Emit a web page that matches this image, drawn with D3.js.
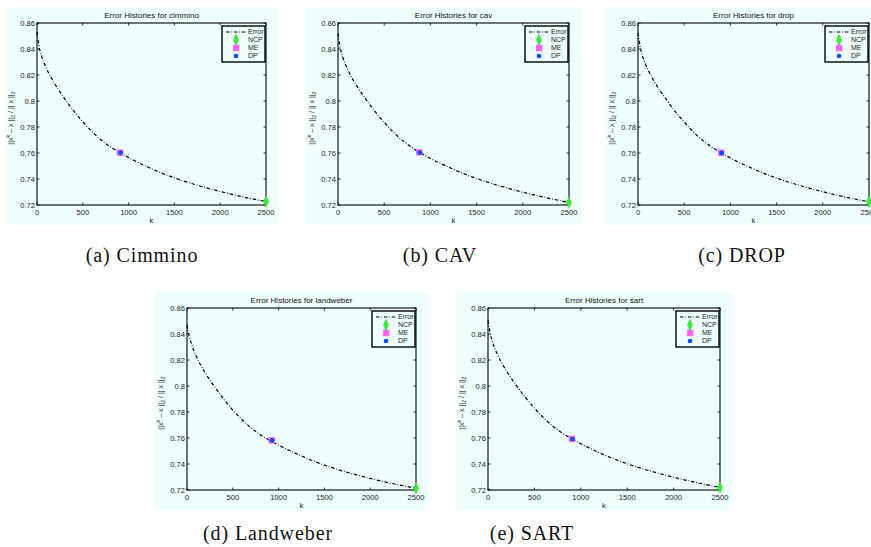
<!DOCTYPE html>
<html>
<head>
<meta charset="utf-8">
<script src="https://cdn.jsdelivr.net/npm/d3@7"></script>
<style>
  body { margin: 0; background: #fff; }
  svg { display: block; }
</style>
</head>
<body>
<div id="chart"></div>
<script>
// iteration counts shared by all five runs
const iterations = [0, 20, 50, 100, 150, 200, 300, 400, 500, 600, 700, 800, 900, 1000, 1200, 1400, 1600, 1800, 2000, 2200, 2400, 2500]

// relative error per method
const errCimmino = [0.853, 0.843, 0.8345, 0.8255, 0.8185, 0.8125, 0.802, 0.7925, 0.784, 0.7765, 0.770, 0.7648, 0.7605, 0.7565, 0.7495, 0.7435, 0.7385, 0.7342, 0.7304, 0.727, 0.724, 0.7226]
const errCav = [0.852, 0.8425, 0.834, 0.825, 0.818, 0.812, 0.8015, 0.792, 0.7835, 0.776, 0.7695, 0.7642, 0.7598, 0.7558, 0.749, 0.743, 0.738, 0.7337, 0.7298, 0.7265, 0.7234, 0.722]
const errDrop = [0.8525, 0.843, 0.8342, 0.8252, 0.8183, 0.8122, 0.8018, 0.7922, 0.7838, 0.7762, 0.7697, 0.7645, 0.7602, 0.7562, 0.7493, 0.7433, 0.7383, 0.734, 0.7302, 0.7268, 0.7238, 0.7225]
const errLandweber = [0.847, 0.8395, 0.832, 0.823, 0.816, 0.81, 0.7995, 0.79, 0.7815, 0.7742, 0.7678, 0.7625, 0.7583, 0.7545, 0.7477, 0.7418, 0.7368, 0.7326, 0.7289, 0.7256, 0.7227, 0.7213]
const errSart = [0.8505, 0.842, 0.8335, 0.8245, 0.8175, 0.8115, 0.801, 0.7915, 0.783, 0.7755, 0.769, 0.7638, 0.7595, 0.7556, 0.7487, 0.7428, 0.7378, 0.7336, 0.7298, 0.7265, 0.7234, 0.722]

const methods = ['cimmino', 'cav', 'drop', 'landweber', 'sart']
const captions = ['(a) Cimmino', '(b) CAV', '(c) DROP', '(d) Landweber', '(e) SART']

// stopping rule picks: NCP, ME, DP
const ncpK = [2500, 2500, 2500, 2500, 2500]
const ncpErr = [0.7226, 0.722, 0.7225, 0.7213, 0.722]
const meK = [905, 880, 900, 925, 905]
const meErr = [0.7603, 0.7605, 0.7602, 0.7582, 0.7593]
const dpK = [912, 885, 905, 928, 910]
const dpErr = [0.7602, 0.7603, 0.760, 0.7581, 0.7592]

const xTicks = [0, 500, 1000, 1500, 2000, 2500]
const yTicks = [0.72, 0.74, 0.76, 0.78, 0.8, 0.82, 0.84, 0.86]
const legendLabels = ['Error', 'NCP', 'ME', 'DP']

const errs = [errCimmino, errCav, errDrop, errLandweber, errSart]

let W = 871
let H = 547
let bg = '#effefe'

let svg = d3.select('#chart')
  .append('svg')
  .attr('width', W)
  .attr('height', H)
  .style('font-family', '"Liberation Sans", Arial, sans-serif')

// plot-area origin for each panel + caption center
let layout = [
  { x: 37, y: 23, w: 229, cx: 142, cy: 262 },
  { x: 338, y: 23, w: 231, cx: 440, cy: 262 },
  { x: 638, y: 23, w: 231, cx: 742, cy: 262 },
  { x: 187, y: 308, w: 229, cx: 268, cy: 540 },
  { x: 488, y: 308, w: 232, cx: 532, cy: 540 }
]
let plotH = 182

function drawPanel(i) {
  let L = layout[i]
  let g = svg.append('g').attr('transform', `translate(${L.x},${L.y})`)

  g.append('rect')
    .attr('x', -32).attr('y', -16)
    .attr('width', L.w + 44).attr('height', plotH + 36)
    .attr('fill', bg)

  let x = d3.scaleLinear().domain([0, 2500]).range([0, L.w])
  let y = d3.scaleLinear().domain([0.72, 0.86]).range([plotH, 0])
  let fmt = d => String(+d.toFixed(2))

  // tick marks inside the box on all sides
  g.selectAll('.xt').data(xTicks).enter().append('path')
    .attr('d', d => `M${x(d)},${plotH}v-2.5M${x(d)},0v2.5`)
    .attr('stroke', '#000').attr('stroke-width', 0.8)
  g.selectAll('.yt').data(yTicks).enter().append('path')
    .attr('d', d => `M0,${y(d)}h2.5M${L.w},${y(d)}h-2.5`)
    .attr('stroke', '#000').attr('stroke-width', 0.8)

  g.selectAll('.xl').data(xTicks).enter().append('text')
    .attr('x', d => x(d)).attr('y', plotH + 10)
    .attr('text-anchor', 'middle')
    .attr('font-size', 7.6).attr('fill', '#222')
    .text(d => d)
  g.selectAll('.yl').data(yTicks).enter().append('text')
    .attr('x', -2).attr('y', d => y(d) + 2.6)
    .attr('text-anchor', 'end')
    .attr('font-size', 7.6).attr('fill', '#222')
    .text(fmt)

  g.append('text')
    .attr('x', L.w / 2).attr('y', plotH + 18)
    .attr('text-anchor', 'middle').attr('font-size', 7.6).attr('fill', '#222')
    .text('k')

  g.append('text')
    .attr('x', L.w / 2).attr('y', -5)
    .attr('text-anchor', 'middle').attr('font-size', 8).attr('fill', '#111')
    .text('Error Histories for ' + methods[i])

  // y label: ||x^k - x||_2 / || x ||_2
  let yl = g.append('text')
    .attr('transform', `translate(-24,${plotH / 2 + 4}) rotate(-90)`)
    .attr('text-anchor', 'middle').attr('font-size', 7).attr('fill', '#222')
  yl.append('tspan').text('||x')
  yl.append('tspan').attr('dy', -3).attr('font-size', 5.5).text('k')
  yl.append('tspan').attr('dy', 3).text(' \u2013 x ||')
  yl.append('tspan').attr('dy', 2).attr('font-size', 5.5).text('2')
  yl.append('tspan').attr('dy', -2).text(' / || x ||')
  yl.append('tspan').attr('dy', 2).attr('font-size', 5.5).text('2')

  let pts = iterations.map((k, j) => [k, errs[i][j]])
  let line = d3.line()
    .x(d => x(d[0]))
    .y(d => y(d[1]))
    .curve(d3.curveMonotoneX)

  g.append('path')
    .datum(pts)
    .attr('d', line)
    .attr('fill', 'none')
    .attr('stroke', '#000')
    .attr('stroke-width', 1.2)
    .attr('stroke-dasharray', '3.5,1.8,0.8,1.8')

  // box
  g.append('rect')
    .attr('width', L.w).attr('height', plotH)
    .attr('fill', 'none').attr('stroke', '#000').attr('stroke-width', 1.1)

  // markers
  g.append('rect')
    .attr('x', x(meK[i]) - 3.2).attr('y', y(meErr[i]) - 3.2)
    .attr('width', 6.4).attr('height', 6.4)
    .attr('fill', '#ff66f2')
  g.append('circle')
    .attr('cx', x(dpK[i])).attr('cy', y(dpErr[i]))
    .attr('r', 2.4).attr('fill', '#0a4cff')
  g.append('path')
    .attr('d', d3.symbol(d3.symbolDiamond, 40))
    .attr('transform', `translate(${x(ncpK[i])},${y(ncpErr[i])}) scale(0.85,1.1)`)
    .attr('fill', '#3fe63f')

  // legend
  let lg = g.append('g').attr('transform', `translate(${L.w - 44},3)`)
  lg.append('rect')
    .attr('width', 43).attr('height', 36)
    .attr('fill', bg).attr('stroke', '#000').attr('stroke-width', 1.4)
  legendLabels.forEach((lab, j) => {
    let ly = 6 + j * 8
    lg.append('text')
      .attr('x', 26).attr('y', ly + 2.4)
      .attr('font-size', 7).attr('fill', '#222')
      .text(lab)
    if (j === 0) {
      lg.append('path')
        .attr('d', `M4,${ly}H25`)
        .attr('stroke', '#000').attr('stroke-width', 1.1)
        .attr('stroke-dasharray', '3.5,1.8,0.8,1.8')
    } else if (j === 1) {
      lg.append('path')
        .attr('d', d3.symbol(d3.symbolDiamond, 40))
        .attr('transform', `translate(14,${ly}) scale(0.85,1.1)`)
        .attr('fill', '#3fe63f')
    } else if (j === 2) {
      lg.append('rect')
        .attr('x', 11).attr('y', ly - 3.2)
        .attr('width', 6.4).attr('height', 6.4)
        .attr('fill', '#ff66f2')
    } else {
      lg.append('circle')
        .attr('cx', 14).attr('cy', ly).attr('r', 2.3)
        .attr('fill', '#0a4cff')
    }
  })

  // sub-caption
  svg.append('text')
    .attr('x', L.cx).attr('y', L.cy)
    .attr('text-anchor', 'middle')
    .attr('font-family', '"Liberation Serif", "Times New Roman", serif')
    .attr('font-size', 20)
    .attr('letter-spacing', 0.9)
    .attr('fill', '#111')
    .text(captions[i])
}

methods.forEach((m, i) => drawPanel(i))
</script>
</body>
</html>
